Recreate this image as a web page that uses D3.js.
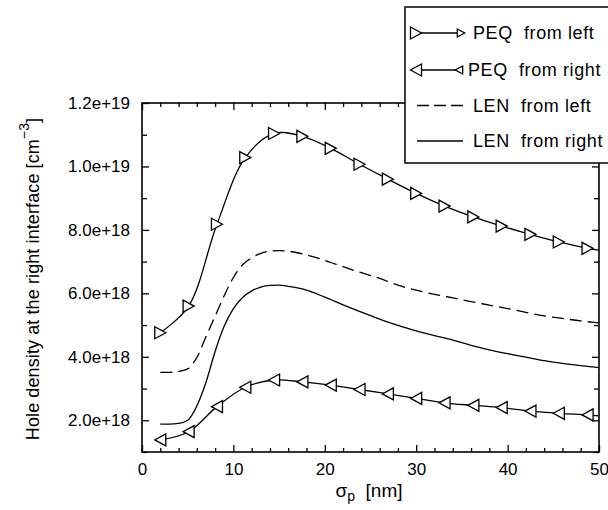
<!DOCTYPE html>
<html><head><meta charset="utf-8">
<script src="https://cdn.jsdelivr.net/npm/d3@7/dist/d3.min.js"></script>
<style>body{margin:0;background:#fff}svg{display:block;font-family:"Liberation Sans",Arial,sans-serif}</style>
</head><body><svg id="c" width="608" height="510"></svg>
<script>
// values in units of 1e18 cm^-3
const peqX = [2, 5.1, 8.2, 11.3, 14.45, 17.55, 20.65, 23.8, 26.9, 30.0, 33.1, 36.25, 39.35, 42.5, 45.6, 48.75, 50];
const peqLeft = [4.76, 5.6, 8.18, 10.28, 11.04, 10.95, 10.57, 10.07, 9.60, 9.15, 8.75, 8.41, 8.12, 7.86, 7.62, 7.42, 7.36];
const peqRight = [1.38, 1.64, 2.43, 3.04, 3.27, 3.21, 3.11, 2.97, 2.83, 2.69, 2.55, 2.47, 2.40, 2.29, 2.22, 2.17, 2.14];
const lenX = [2,3,4,5,6,7,8,9,10,11,12,13,14,15,16,17,18,20,22,24,26,28,30,32,34,36,38,40,42,44,46,48,50];
const lenLeft = [3.51,3.51,3.54,3.62,3.98,4.63,5.28,5.93,6.5,6.9,7.12,7.26,7.33,7.35,7.33,7.28,7.21,7.04,6.84,6.65,6.47,6.26,6.10,5.97,5.86,5.74,5.63,5.52,5.40,5.29,5.21,5.13,5.07];
const lenRight = [1.88,1.88,1.90,2.0,2.45,3.2,4.17,4.97,5.52,5.87,6.08,6.2,6.25,6.26,6.22,6.17,6.10,5.88,5.64,5.41,5.19,4.99,4.82,4.67,4.53,4.36,4.22,4.10,3.99,3.88,3.79,3.72,3.66];
const xMajor = [0, 10, 20, 30, 40, 50];
const xMinor = [2,4,6,8,12,14,16,18,22,24,26,28,32,34,36,38,42,44,46,48];
const yMajor = [2, 4, 6, 8, 10, 12];
const yMajorLabels = ["2.0e+18", "4.0e+18", "6.0e+18", "8.0e+18", "1.0e+19", "1.2e+19"];
const yMinor = [1, 3, 5, 7, 9, 11];
const legendLabels = ["PEQ  from left", "PEQ  from right", "LEN  from left", "LEN  from right"];

const L = 142, R = 599, T = 103, B = 452;
const svg = d3.select("#c");
const x = d3.scaleLinear().domain([0, 50]).range([L, R]);
const y = d3.scaleLinear().domain([1, 12]).range([B, T]);

function styleAxis(g) {
  g.select(".domain").remove();
  g.selectAll("line").attr("stroke", "#000").attr("stroke-width", 1.3);
  g.selectAll("text").attr("font-size", 17).attr("fill", "#000").attr("font-family", '"Liberation Sans",Arial,sans-serif');
}
// bottom
svg.append("g").attr("transform", `translate(0,${B})`)
  .call(d3.axisBottom(x).tickValues(xMajor).tickSize(-7).tickPadding(11).tickFormat(d3.format("d"))).call(styleAxis);
svg.append("g").attr("transform", `translate(0,${B})`)
  .call(d3.axisBottom(x).tickValues(xMinor).tickSize(-4).tickFormat("")).call(styleAxis);
// top
svg.append("g").attr("transform", `translate(0,${T})`)
  .call(d3.axisTop(x).tickValues(xMajor).tickSize(-7).tickFormat("")).call(styleAxis);
svg.append("g").attr("transform", `translate(0,${T})`)
  .call(d3.axisTop(x).tickValues(xMinor).tickSize(-4).tickFormat("")).call(styleAxis);
// left
svg.append("g").attr("transform", `translate(${L},0)`)
  .call(d3.axisLeft(y).tickValues(yMajor).tickSize(-7).tickPadding(12).tickFormat((d, i) => yMajorLabels[i])).call(styleAxis);
svg.append("g").attr("transform", `translate(${L},0)`)
  .call(d3.axisLeft(y).tickValues(yMinor).tickSize(-5).tickFormat("")).call(styleAxis);
// right
svg.append("g").attr("transform", `translate(${R},0)`)
  .call(d3.axisRight(y).tickValues(yMajor).tickSize(-7).tickFormat("")).call(styleAxis);
svg.append("g").attr("transform", `translate(${R},0)`)
  .call(d3.axisRight(y).tickValues(yMinor).tickSize(-5).tickFormat("")).call(styleAxis);

svg.append("rect").attr("x", L).attr("y", T).attr("width", R - L).attr("height", B - T)
  .attr("fill", "none").attr("stroke", "#000").attr("stroke-width", 1.6);

// curves
const lenLine = d3.line().x(d => x(d[0])).y(d => y(d[1])).curve(d3.curveMonotoneX);
const peqLine = d3.line().x(d => x(d[0])).y(d => y(d[1])).curve(d3.curveCatmullRom.alpha(0.5));
const zip = (a, b) => a.map((v, i) => [v, b[i]]);

svg.append("path").attr("d", lenLine(zip(lenX, lenLeft))).attr("fill", "none").attr("stroke", "#000").attr("stroke-width", 1.3).attr("stroke-dasharray", "12,6");
svg.append("path").attr("d", lenLine(zip(lenX, lenRight))).attr("fill", "none").attr("stroke", "#000").attr("stroke-width", 1.3);
svg.append("path").attr("d", peqLine(zip(peqX, peqLeft))).attr("fill", "none").attr("stroke", "#000").attr("stroke-width", 1.3);
svg.append("path").attr("d", peqLine(zip(peqX, peqRight))).attr("fill", "none").attr("stroke", "#000").attr("stroke-width", 1.3);

function tri(dir, s) { // dir 1 = right-pointing, -1 = left-pointing
  const w = s * 0.46, h = s * 0.5;
  return `M${-dir * w},${-h}L${dir * w},0L${-dir * w},${h}Z`;
}
const markerPts = (xs, ys) => zip(xs, ys).filter(d => d[0] < 50);
svg.append("g").selectAll("path").data(markerPts(peqX, peqLeft)).join("path")
  .attr("transform", d => `translate(${x(d[0])},${y(d[1])})`).attr("d", tri(1, 12))
  .attr("fill", "#fff").attr("stroke", "#000").attr("stroke-width", 1.3);
svg.append("g").selectAll("path").data(markerPts(peqX, peqRight)).join("path")
  .attr("transform", d => `translate(${x(d[0])},${y(d[1])})`).attr("d", tri(-1, 12))
  .attr("fill", "#fff").attr("stroke", "#000").attr("stroke-width", 1.3);

// legend
const lg = svg.append("g");
lg.append("rect").attr("x", 405).attr("y", 7).attr("width", 215).attr("height", 156)
  .attr("fill", "#fff").attr("stroke", "#000").attr("stroke-width", 1.5);
const rowsY = [33, 70, 105.5, 141];
[0, 1].forEach(i => {
  const dir = i === 0 ? 1 : -1;
  lg.append("line").attr("x1", 416).attr("x2", 460).attr("y1", rowsY[i]).attr("y2", rowsY[i]).attr("stroke", "#000").attr("stroke-width", 1.3);
  lg.append("path").attr("transform", `translate(416,${rowsY[i]})`).attr("d", tri(dir, 12)).attr("fill", "#fff").attr("stroke", "#000").attr("stroke-width", 1.3);
  lg.append("path").attr("transform", `translate(${i === 0 ? 461 : 459},${rowsY[i]})`).attr("d", tri(dir, 8)).attr("fill", "#fff").attr("stroke", "#000").attr("stroke-width", 1.3);
});
lg.append("line").attr("x1", 417).attr("x2", 463).attr("y1", rowsY[2]).attr("y2", rowsY[2]).attr("stroke", "#000").attr("stroke-width", 1.3).attr("stroke-dasharray", "12,5");
lg.append("line").attr("x1", 417).attr("x2", 463).attr("y1", rowsY[3]).attr("y2", rowsY[3]).attr("stroke", "#000").attr("stroke-width", 1.3);
const textX = [473, 468, 473, 473];
legendLabels.forEach((t, i) => {
  lg.append("text").attr("x", textX[i]).attr("y", rowsY[i]).attr("dy", "0.35em")
    .attr("font-size", 18).attr("letter-spacing", 0.6).attr("xml:space", "preserve").style("white-space", "pre").text(t);
});

// axis titles
const yl = svg.append("text").attr("transform", "translate(39,279) rotate(-90)")
  .attr("text-anchor", "middle").attr("font-size", 18).attr("letter-spacing", 0.1);
yl.append("tspan").text("Hole density at the right interface [cm");
yl.append("tspan").attr("font-size", 14).attr("dy", "-0.75em").text("−3");
yl.append("tspan").attr("dy", "0.58em").text("]");

const xl = svg.append("text").attr("x", 369).attr("y", 497).attr("text-anchor", "middle").attr("font-size", 19)
  .attr("xml:space", "preserve").style("white-space", "pre");
xl.append("tspan").text("σ");
xl.append("tspan").attr("font-size", 14).attr("dy", "0.3em").text("p");
xl.append("tspan").attr("dy", "-0.22em").text("  [nm]");
</script></body></html>
